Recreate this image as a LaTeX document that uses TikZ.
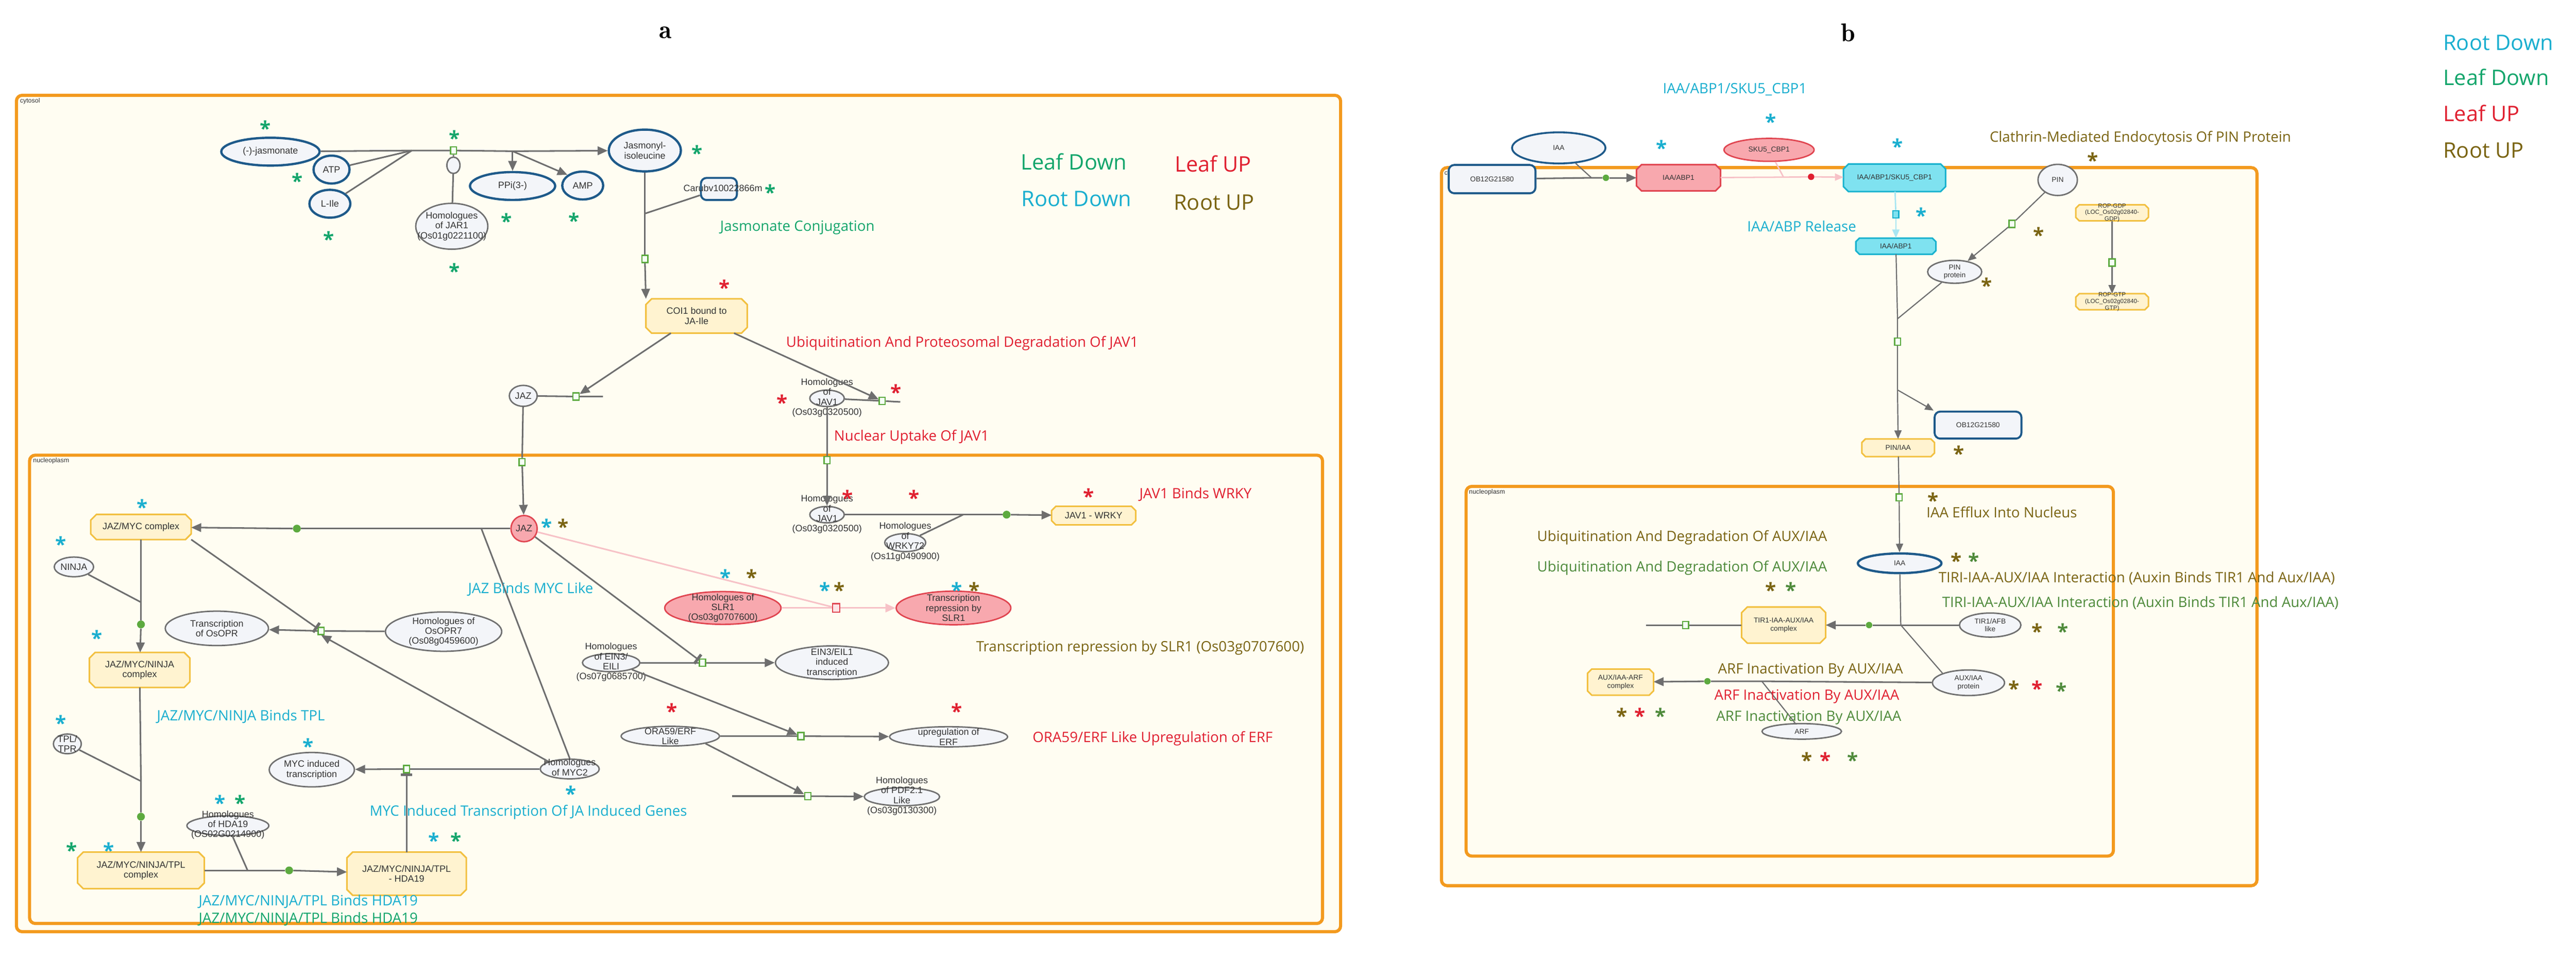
\documentclass[tikz,border=0pt]{standalone}
\usepackage{fontspec}
\setmainfont{Liberation Sans}
\newfontfamily\lab{Open Sans}
\usetikzlibrary{shapes.geometric,shapes.misc,arrows.meta}
\definecolor{cream}{HTML}{FFFDF2}
\definecolor{orng}{HTML}{F39A1E}
\definecolor{edg}{HTML}{6E6E6E}
\definecolor{gbord}{HTML}{707070}
\definecolor{gfill}{HTML}{F3F5F9}
\definecolor{bbord}{HTML}{1E5A8A}
\definecolor{yfill}{HTML}{FFF3D0}
\definecolor{ybord}{HTML}{F2C040}
\definecolor{pfill}{HTML}{F8A8AE}
\definecolor{pbord}{HTML}{E04550}
\definecolor{plink}{HTML}{F7C2C7}
\definecolor{cfill}{HTML}{7FE2F0}
\definecolor{cbord}{HTML}{19B2CE}
\definecolor{clink}{HTML}{A8E6F2}
\definecolor{sqg}{HTML}{5DAA3F}
\definecolor{cLD}{HTML}{13A56B}
\definecolor{cRD}{HTML}{19AECF}
\definecolor{cLU}{HTML}{E02030}
\definecolor{cRU}{HTML}{7A6412}
\definecolor{cGb}{HTML}{4E8A3A}
\definecolor{ntc}{HTML}{333333}
\tikzset{
 sz/.style 2 args={minimum width=#1*1.148pt,minimum height=#2*1.148pt},
 comp/.style={draw=orng,line width=2.2pt,rounded corners=4pt,fill=cream},
 nt/.style={font=\fontsize{6.5}{7}\selectfont,text=ntc,align=center,inner sep=0pt},
 nts/.style={font=\fontsize{5}{5.6}\selectfont,text=ntc,align=center,inner sep=0pt},
 gell/.style={ellipse,draw=gbord,fill=gfill,line width=1pt,inner sep=0pt},
 bell/.style={ellipse,draw=bbord,fill=gfill,line width=1.6pt,inner sep=0pt},
 oct/.style={rectangle,inner sep=0pt},
 pell/.style={gell,draw=pbord,fill=pfill},
 rbox/.style={rectangle,rounded corners=4pt,draw=bbord,fill=gfill,line width=1.4pt,inner sep=0pt},
 sq/.style={rectangle,draw=sqg,fill=green!4,line width=0.9pt,minimum width=4.2pt,minimum height=5pt,inner sep=0pt},
 gdot/.style={circle,fill=sqg,minimum size=5.5pt,inner sep=0pt},
 ed/.style={draw=edg,line width=1.1pt},
 arr/.style={ed,-{Triangle[length=7pt,width=6pt]}},
 inh/.style={ed,-{Bar[width=8pt,line width=2pt]}},
 lbl/.style={font=\lab\fontsize{10}{12}\selectfont,inner sep=0pt},
 leg/.style={font=\lab\fontsize{15}{17}\selectfont,inner sep=0pt},
 ast/.style={font=\lab\bfseries\fontsize{14}{14}\selectfont,inner sep=0pt},
 cmp/.style={font=\fontsize{4.5}{5}\selectfont,text=ntc,anchor=north west,inner sep=0pt},
 ttl/.style={font=\fontfamily{lmr}\bfseries\fontsize{18}{18}\selectfont},
}
\newcommand\astk[4]{\node[ast,text=#2] (#1) at (#3,#4) {*};}
\newcommand\octag[4]{\filldraw[draw=#2,fill=#3,line width=1.1pt] ([xshift=#4]#1.north west) -- ([xshift=-#4]#1.north east) -- ([yshift=-#4]#1.north east) -- ([yshift=#4]#1.south east) -- ([xshift=-#4]#1.south east) -- ([xshift=#4]#1.south west) -- ([yshift=#4]#1.south west) -- ([yshift=-#4]#1.north west) -- cycle;}
\begin{document}
\begin{tikzpicture}[x=0.04046cm,y=-0.04046cm]
\useasboundingbox (0,0) rectangle (1568,584);
\fill[white] (0,0) rectangle (1568,584);
% titles
\node[ttl] (ta) at (405,20) {a};
\node[ttl] (tb) at (1125,20) {b};
% ================= panel a compartments
\draw[comp] (10,58) rectangle (816,567);
\node[cmp] (cyta) at (12,59.5) {cytosol};
\draw[comp] (18,277) rectangle (805,562);
\node[cmp] (nuca) at (20,278.5) {nucleoplasm};
% cytosol nodes
\node[bell,sz={60}{17}] (jas) at (164.6,92.3) {}; \node[nt] (jast) at (jas) {(-)-jasmonate};
\node[bell,sz={22}{17}] (atp) at (201.8,103.2) {}; \node[nt] (atpt) at (atp) {ATP};
\node[bell,sz={25}{17}] (lile) at (200.8,124) {}; \node[nt] (lilet) at (lile) {L-Ile};
\node[sq] (s1) at (276,91.6) {};
\coordinate (c1) at (250.7,91.6);
\coordinate (c2) at (312,92);
\node[gell,sz={8}{10}] (cat) at (276,100.6) {};
\node[gell,sz={44}{28}] (jar) at (275,137.7) {}; \node[nt] (jart) at (jar) {Homologues\\of JAR1\\(Os01g0221100)};
\node[bell,sz={52}{17}] (ppi) at (312,113.2) {}; \node[nt] (ppit) at (ppi) {PPi(3-)};
\node[bell,sz={25}{17}] (amp) at (354.7,112.9) {}; \node[nt] (ampt) at (amp) {AMP};
\node[bell,sz={44}{25.5}] (jmi) at (392.5,91.6) {}; \node[nt] (jmit) at (jmi) {Jasmonyl-\\isoleucine};
\node[rbox,sz={22}{13.5}] (caru) at (437.6,115) {}; \node[nt] (carut) at (440,114.5) {Carubv10022866m};
\coordinate (c3) at (392.5,130);
\node[sq] (s2) at (392.5,157.6) {};
\node[oct,sz={61.5}{20.6}] (coi) at (424,192.3) {}; \octag{coi}{ybord}{yfill}{4pt} \node[nt] (coit) at (coi) {COI1 bound to\\JA-Ile};
\node[gell,sz={17}{12.8}] (jaz) at (318.5,240.9) {}; \node[nt] (jazt) at (jaz) {JAZ};
\node[sq] (s3) at (350.6,241.3) {};
\coordinate (c4) at (367,241.3);
\node[gell,sz={21}{10}] (jv1) at (503.4,242.4) {}; \node[nt] (jv1t) at (503.4,242) {Homologues\\of\\JAV1\\(Os03g0320500)};
\node[sq] (s4) at (537,244) {};
\coordinate (c5) at (548,244.6);
\node[sq] (s5) at (317.8,281.2) {};
\node[sq] (s6) at (503.4,280) {};
% cytosol edges
\draw[ed] (jas) -- (c1); \draw[ed] (atp) -- (c1); \draw[ed] (lile) -- (c1);
\draw[ed] (c1) -- (s1) -- (c2);
\draw[arr] (c2) -- (jmi);
\draw[arr] (c2) -- (ppi.north);
\draw[arr] (c2) -- (amp.north west);
\draw[ed] (s1) -- (cat) -- (jar);
\draw[ed] (jmi) -- (c3) -- (s2); \draw[ed] (caru) -- (c3);
\draw[arr] (s2) -- (coi.north west);
\draw[arr] (coi) -- (s3); \draw[ed] (jaz) -- (s3) -- (c4);
\draw[arr] (coi) -- (s4); \draw[ed] (jv1) -- (s4) -- (c5);
% nucleoplasm a nodes
\node[pell,circle,sz={16}{16}] (jazn) at (319,321.7) {}; \node[nt] (jaznt) at (jazn) {JAZ};
\draw[ed] (jaz) -- (s5); \draw[arr] (s5) -- (jazn);
\node[oct,sz={61}{15}] (jm) at (85.8,320.7) {}; \octag{jm}{ybord}{yfill}{4pt} \node[nt] (jmt) at (jm) {JAZ/MYC complex};
\node[gdot] (g1) at (180.7,321.7) {};
\coordinate (c6) at (293,321.7);
\node[gell,sz={24}{12}] (ninja) at (45,345) {}; \node[nt] (ninjat) at (ninja) {NINJA};
\node[gdot] (g2) at (85.8,380) {};
\coordinate (c7) at (85.8,366.5);
\node[oct,sz={61}{21}] (jmn) at (85,407.7) {}; \octag{jmn}{ybord}{yfill}{4pt} \node[nt] (jmnt) at (jmn) {JAZ/MYC/NINJA\\complex};
\node[gell,sz={63}{21}] (topr) at (132,382.4) {}; \node[nt] (toprt) at (topr) {Transcription\\of OsOPR};
\node[sq] (sopr) at (195.5,384) {};
\node[gell,sz={71}{24}] (opr7) at (270,384.4) {}; \node[nt] (opr7t) at (opr7) {Homologues of\\OsOPR7\\(Os08g0459600)};
\node[gell,sz={17}{12}] (tpl) at (41,452.7) {}; \node[nt] (tplt) at (tpl) {TPL/\\TPR};
\coordinate (c8) at (85.8,475.4);
\node[gdot] (g3) at (85.8,497) {};
\node[oct,sz={77}{22}] (jmnt2) at (85.8,529.7) {}; \octag{jmnt2}{ybord}{yfill}{4pt} \node[nt] (jmnt2t) at (jmnt2) {JAZ/MYC/NINJA/TPL\\complex};
\node[gell,sz={50}{12}] (hda) at (138.7,502.5) {}; \node[nt] (hdat) at (138.7,502) {Homologues\\of HDA19\\(OS02G0214900)};
\coordinate (c9) at (150.7,529.7);
\node[gdot] (g4) at (176,529.7) {};
\node[oct,sz={72.5}{26}] (hdc) at (247.5,531.7) {}; \octag{hdc}{ybord}{yfill}{4pt} \node[nt] (hdct) at (hdc) {JAZ/MYC/NINJA/TPL\\- HDA19};
\node[gell,sz={52}{21}] (myci) at (189.8,468.4) {}; \node[nt] (mycit) at (myci) {MYC induced\\transcription};
\node[sq] (smyc) at (247.5,468) {};
\node[gell,sz={36}{12}] (myc2) at (346.8,468) {}; \node[nt] (myc2t) at (346.8,467) {Homologues\\of MYC2};
\node[pell,sz={71}{20}] (slr) at (440,370) {}; \node[nt] (slrt) at (slr) {Homologues of\\SLR1\\(Os03g0707600)};
\node[sq,draw=pbord,fill=pfill!30,minimum width=5pt,minimum height=6pt] (sr) at (509,370) {};
\node[pell,sz={70}{20.5}] (trs) at (580.4,370) {}; \node[nt] (trst) at (trs) {Transcription\\repression by\\SLR1};
\node[gell,sz={35}{11}] (ein) at (372,403.3) {}; \node[nt] (eint) at (372,403) {Homologues\\of EIN3/\\EILI\\(Os07g0685700)};
\node[sq] (sein) at (427.6,403.3) {};
\node[gell,sz={69}{20.5}] (eint2) at (506.4,403.3) {}; \node[nt] (eint2t) at (eint2) {EIN3/EIL1\\induced\\transcription};
\node[gell,sz={60}{12}] (ora) at (408,448) {}; \node[nt] (orat) at (ora) {ORA59/ERF\\Like};
\node[sq] (serf) at (487.5,448) {};
\node[gell,sz={72}{12.3}] (uerf) at (577.4,448.4) {}; \node[nt] (uerft) at (uerf) {upregulation of\\ERF};
\coordinate (c10) at (445.6,484.5);
\node[sq] (spdf) at (491.7,484.5) {};
\node[gell,sz={46}{11}] (pdf) at (549,484.9) {}; \node[nt] (pdft) at (549,484.5) {Homologues\\of PDF2.1\\Like\\(Os03g0130300)};
\node[gell,sz={21}{10}] (jvn) at (503.4,313.2) {}; \node[nt] (jvnt) at (503.4,313) {Homologues\\of\\JAV1\\(Os03g0320500)};
\node[gell,sz={25}{11}] (wrk) at (551,330.2) {}; \node[nt] (wrkt) at (551,329.7) {Homologues\\of\\WRKY72\\(Os11g0490900)};
\coordinate (c11) at (586.3,313.2);
\node[gdot] (g5) at (612.7,313.2) {};
\node[oct,sz={51}{11}] (jw) at (665.7,313.8) {}; \octag{jw}{ybord}{yfill}{3pt} \node[nt] (jwt) at (jw) {JAV1 - WRKY};
% nucleoplasm a edges
\draw[ed] (jv1) -- (s6); \draw[arr] (s6) -- (jvn);
\draw[ed] (jazn) -- (c6) -- (g1); \draw[arr] (g1) -- (jm);
\draw[ed] (c6) -- (myc2.north);
\draw[ed] (jm) -- (c7) -- (g2); \draw[arr] (g2) -- (jmn);
\draw[ed] (ninja) -- (c7);
\draw[inh] (jm.south east) -- (sopr);
\draw[ed] (opr7) -- (sopr); \draw[arr] (sopr) -- (topr);
\draw[arr] (myc2.north west) -- (sopr.south);
\draw[ed] (jmn) -- (c8) -- (g3); \draw[arr] (g3) -- (jmnt2);
\draw[ed] (tpl) -- (c8);
\draw[ed] (jmnt2) -- (c9) -- (g4); \draw[arr] (g4) -- (hdc);
\draw[ed] (hda) -- (c9);
\draw[inh] (hdc) -- (smyc);
\draw[ed] (myc2) -- (smyc); \draw[arr] (smyc) -- (myci);
\draw[inh] (jazn) -- (sein);
\draw[ed] (ein) -- (sein); \draw[arr] (sein) -- (eint2);
\draw[arr] (ein.south east) -- (serf);
\draw[ed] (ora) -- (serf); \draw[arr] (serf) -- (uerf);
\draw[arr] (ora.south east) -- (spdf);
\draw[ed] (c10) -- (spdf); \draw[arr] (spdf) -- (pdf);
\draw[ed] (jvn) -- (c11) -- (g5); \draw[ed] (wrk) -- (c11);
\draw[arr] (g5) -- (jw);
\draw[draw=plink,line width=1.1pt] (jazn) -- (sr);
\draw[draw=plink,line width=1.1pt] (slr) -- (sr);
\draw[draw=plink,line width=1.1pt,-{Triangle[length=7pt,width=6pt]}] (sr) -- (trs);
% panel a texts
\node[leg,text=cLD] (l1) at (653.7,98.4) {Leaf Down};
\node[leg,text=cLU] (l2) at (738.5,99.8) {Leaf UP};
\node[leg,text=cRD] (l3) at (655.2,121) {Root Down};
\node[leg,text=cRU] (l4) at (739,123.2) {Root UP};
\node[lbl,text=cLD] (t1) at (485.4,138.5) {Jasmonate Conjugation};
\node[lbl,text=cLU] (t2) at (585.7,209) {Ubiquitination And Proteosomal Degradation Of JAV1};
\node[lbl,text=cLU,anchor=west] (t3) at (507.5,266) {Nuclear Uptake Of JAV1};
\node[lbl,text=cLU] (t4) at (727.7,301) {JAV1 Binds WRKY};
\node[lbl,text=cRD] (t5) at (323,358.5) {JAZ Binds MYC Like};
\node[lbl,text=cRU] (t6) at (694,394.3) {Transcription repression by SLR1 (Os03g0707600)};
\node[lbl,text=cLU] (t7) at (701.6,449.4) {ORA59/ERF Like Upregulation of ERF};
\node[lbl,text=cRD] (t8) at (146.6,436) {JAZ/MYC/NINJA Binds TPL};
\node[lbl,text=cRD] (t9) at (321.6,494.3) {MYC Induced Transcription Of JA Induced Genes};
\node[lbl,text=cRD] (t10) at (187.6,548.6) {JAZ/MYC/NINJA/TPL Binds HDA19};
\node[lbl,text=cLD] (t11) at (187.6,559.2) {JAZ/MYC/NINJA/TPL Binds HDA19};
% panel a asterisks
\astk{a1}{cLD}{161.4}{78}\astk{a2}{cLD}{276.5}{84}\astk{a3}{cLD}{181}{110}
\astk{a4}{cLD}{424.4}{93}\astk{a5}{cLD}{200.2}{145.5}\astk{a6}{cLD}{308.4}{134.5}
\astk{a7}{cLD}{349.3}{134}\astk{a8}{cLD}{276.5}{165}\astk{a9}{cLD}{468.8}{117}
\astk{a10}{cLU}{440.8}{175}\astk{a11}{cLU}{545.3}{238.5}\astk{a12}{cLU}{476}{245}
\astk{a13}{cRD}{86.7}{308.5}\astk{a14}{cRD}{36.9}{331}\astk{a15}{cRD}{59}{388}
\astk{a16}{cRD}{36.9}{440}\astk{a17}{cRD}{134}{488.5}\astk{a18}{cLD}{146}{488.5}
\astk{a19}{cLD}{43.5}{517.5}\astk{a20}{cRD}{66.2}{517.5}\astk{a21}{cRD}{264}{511.5}
\astk{a22}{cLD}{277.5}{511.5}\astk{a23}{cRD}{187.6}{454}\astk{a24}{cRD}{347.5}{483}
\astk{a25}{cRD}{332.6}{320.5}\astk{a26}{cRU}{342.7}{320.5}\astk{a27}{cRD}{441.5}{351}
\astk{a28}{cRU}{457.6}{351}\astk{a29}{cRD}{502}{359}\astk{a30}{cRU}{511}{359}
\astk{a31}{cRD}{582.5}{359}\astk{a32}{cRU}{593}{359}\astk{a33}{cLU}{409}{432.6}
\astk{a34}{cLU}{582.5}{432.6}\astk{a35}{cLU}{516}{303}\astk{a36}{cLU}{556.4}{303}
\astk{a37}{cLU}{662.7}{302}
% ================= panel b
\draw[comp] (877.4,102) rectangle (1373.8,539);
\node[cmp] (cytb) at (879,103.5) {cytosol};
\draw[comp] (892.4,296) rectangle (1286.4,521);
\node[cmp] (nucb) at (894,297.5) {nucleoplasm};
\node[gell,draw=bbord,line width=1.3pt,sz={57}{19}] (iaa) at (948.8,90) {}; \node[nts] (iaat) at (iaa) {IAA};
\node[rbox,sz={53}{17.3}] (ob1) at (908.2,109) {}; \node[nts] (ob1t) at (ob1) {OB12G21580};
\coordinate (b1) at (968.7,108.2);
\node[gdot,minimum size=4.5pt] (gb1) at (977.5,108.2) {};
\node[oct,sz={51}{15.6}] (ia1) at (1021.7,108.2) {}; \octag{ia1}{pbord}{pfill}{3.5pt} \node[nts] (ia1t) at (ia1) {IAA/ABP1};
\node[pell,sz={55}{14}] (sku) at (1076.8,91.2) {}; \node[nts] (skut) at (sku) {SKU5\_CBP1};
\coordinate (b2) at (1085.6,107.8);
\node[circle,fill=cLU,minimum size=4.5pt,inner sep=0pt] (rd) at (1102.4,107.6) {};
\node[oct,sz={62}{16.5}] (cpx) at (1153.2,108.2) {}; \octag{cpx}{cbord}{cfill}{3.5pt} \node[nts] (cpxt) at (cpx) {IAA/ABP1/SKU5\_CBP1};
\node[gell,sz={24}{19}] (pin) at (1252.5,109.5) {}; \node[nts] (pint) at (pin) {PIN};
\node[sq,draw=cbord,fill=cfill] (sc) at (1154,130.4) {};
\node[oct,sz={48.5}{9.5}] (ia2) at (1154,149.8) {}; \octag{ia2}{cbord}{cfill}{2.5pt} \node[nts] (ia2t) at (ia2) {IAA/ABP1};
\node[sq] (sp) at (1224.7,136.3) {};
\node[gell,sz={33}{14}] (pinp) at (1189.8,165.4) {}; \node[nts] (pinpt) at (pinp) {PIN\\protein};
\node[oct,sz={44}{9.5}] (rg1) at (1285.6,129.5) {}; \octag{rg1}{ybord}{yfill}{2.5pt} \node[nts,font=\fontsize{4.2}{4.6}\selectfont] (rg1t) at (rg1) {ROP-GDP\\(LOC\_Os02g02840-\\GDP)};
\node[sq] (sr2) at (1285.6,159.8) {};
\node[oct,sz={44}{9.5}] (rg2) at (1285.6,183.6) {}; \octag{rg2}{ybord}{yfill}{2.5pt} \node[nts,font=\fontsize{4.2}{4.6}\selectfont] (rg2t) at (rg2) {ROP-GTP\\(LOC\_Os02g02840-\\GTP)};
\coordinate (b3) at (1155,194);
\node[sq] (sb) at (1155,207.9) {};
\coordinate (b4) at (1155,237.3);
\node[rbox,sz={53}{16.5}] (ob2) at (1204,258.7) {}; \node[nts] (ob2t) at (ob2) {OB12G21580};
\node[oct,sz={44}{10.4}] (pia) at (1155.4,272.5) {}; \octag{pia}{ybord}{yfill}{2.5pt} \node[nts] (piat) at (pia) {PIN/IAA};
\node[sq] (sn) at (1156,302.7) {};
\node[bell,sz={51}{12}] (iaan) at (1156.3,342.8) {}; \node[nts] (iaant) at (iaan) {IAA};
\coordinate (b5) at (1157,380.4);
\node[gdot,minimum size=4.5pt] (gb2) at (1137.7,380.4) {};
\node[oct,sz={51}{21.7}] (tc) at (1085.7,380.4) {}; \octag{tc}{ybord}{yfill}{4pt} \node[nts] (tct) at (tc) {TIR1-IAA-AUX/IAA\\complex};
\node[sq] (st) at (1026,380.4) {};
\coordinate (b6) at (1001.8,380.4);
\node[gell,sz={37.5}{14.7}] (tir) at (1211.4,380.4) {}; \node[nts] (tirt) at (tir) {TIR1/AFB\\like};
\node[gell,sz={44}{15.6}] (aux) at (1198.2,415.5) {}; \node[nts] (auxt) at (aux) {AUX/IAA\\protein};
\node[oct,sz={40}{15.6}] (arfc) at (986.4,415.1) {}; \octag{arfc}{ybord}{yfill}{3pt} \node[nts] (arfct) at (arfc) {AUX/IAA-ARF\\complex};
\coordinate (b7) at (1072.4,414.6);
\node[gdot,minimum size=4.5pt] (gb3) at (1039.3,414.6) {};
\node[gell,sz={48.5}{9.5}] (arf) at (1096.7,445.1) {}; \node[nts] (arft) at (arf) {ARF};
% panel b edges
\draw[ed,line width=0.8pt] (iaa) -- (b1); \draw[ed] (ob1) -- (b1) -- (gb1);
\draw[arr] (gb1) -- (ia1);
\draw[draw=plink,line width=1pt] (ia1) -- (b2); \draw[draw=plink,line width=1pt] (sku) -- (b2);
\draw[draw=plink,line width=1pt] (b2) -- (rd);
\draw[draw=plink,line width=1pt,-{Triangle[length=6pt,width=5pt]}] (rd) -- (cpx);
\draw[draw=clink,line width=1pt] (cpx) -- (sc);
\draw[draw=clink,line width=1pt,-{Triangle[length=6pt,width=5pt]}] (sc) -- (ia2);
\draw[ed,line width=0.8pt] (pin) -- (sp); \draw[ed,line width=0.8pt,-{Triangle[length=6pt,width=5pt]}] (sp) -- (pinp);
\draw[ed,line width=0.8pt] (rg1) -- (sr2); \draw[ed,line width=0.8pt,-{Triangle[length=6pt,width=5pt]}] (sr2) -- (rg2);
\draw[ed,line width=0.8pt] (ia2) -- (b3) -- (sb) -- (b4); \draw[ed,line width=0.8pt] (pinp) -- (b3);
\draw[ed,line width=0.8pt,-{Triangle[length=6pt,width=5pt]}] (b4) -- (pia);
\draw[ed,line width=0.8pt,-{Triangle[length=6pt,width=5pt]}] (b4) -- (ob2.north west);
\draw[ed,line width=0.8pt] (pia) -- (sn); \draw[ed,line width=0.8pt,-{Triangle[length=6pt,width=5pt]}] (sn) -- (iaan);
\draw[ed,line width=0.8pt] (iaan) -- (b5); \draw[ed] (tir) -- (b5) -- (gb2);
\draw[arr] (gb2) -- (tc);
\draw[ed] (tc) -- (st) -- (b6);
\draw[ed,line width=0.8pt] (b5) -- (aux.north west);
\draw[ed] (aux) -- (b7) -- (gb3); \draw[ed,line width=0.8pt] (arf) -- (b7);
\draw[arr] (gb3) -- (arfc);
% panel b texts
\node[lbl,text=cRD] (u1) at (1056,54.4) {IAA/ABP1/SKU5\_CBP1};
\node[lbl,text=cRU] (u2) at (1302.8,84) {Clathrin-Mediated Endocytosis Of PIN Protein};
\node[lbl,text=cRD] (u3) at (1096.7,137.6) {IAA/ABP Release};
\node[lbl,text=cRU,anchor=west] (u4) at (1172.5,311.6) {IAA Efflux Into Nucleus};
\node[lbl,text=cRU] (u5) at (1023.9,327.2) {Ubiquitination And Degradation Of AUX/IAA};
\node[lbl,text=cGb] (u6) at (1023.9,345.8) {Ubiquitination And Degradation Of AUX/IAA};
\node[lbl,text=cRU] (u7) at (1300.6,351.8) {TIRI-IAA-AUX/IAA Interaction (Auxin Binds TIR1 And Aux/IAA)};
\node[lbl,text=cGb] (u8) at (1302.8,367) {TIRI-IAA-AUX/IAA Interaction (Auxin Binds TIR1 And Aux/IAA)};
\node[lbl,text=cRU] (u9) at (1102,407.8) {ARF Inactivation By AUX/IAA};
\node[lbl,text=cLU] (u10) at (1099.8,423.8) {ARF Inactivation By AUX/IAA};
\node[lbl,text=cGb] (u11) at (1101,436.8) {ARF Inactivation By AUX/IAA};
\node[leg,text=cRD,anchor=west] (lb1) at (1487,26) {Root Down};
\node[leg,text=cLD,anchor=west] (lb2) at (1487,47) {Leaf Down};
\node[leg,text=cLU,anchor=west] (lb3) at (1487,69) {Leaf UP};
\node[leg,text=cRU,anchor=west] (lb4) at (1487,91.5) {Root UP};
% panel b asterisks
\astk{b1a}{cRD}{1077.7}{74}\astk{b2a}{cRD}{1011.5}{90}\astk{b3a}{cRD}{1155}{89}
\astk{b4a}{cRU}{1274}{97.5}\astk{b5a}{cRD}{1169.5}{131}\astk{b6a}{cRU}{1241}{143}
\astk{b7a}{cRU}{1209.2}{173.5}\astk{b8a}{cRU}{1192.4}{276}\astk{b9a}{cRU}{1176.6}{304.5}
\astk{b10a}{cRU}{1190.7}{341}\astk{b11a}{cGb}{1201.3}{341}\astk{b12a}{cRU}{1077.7}{359}
\astk{b13a}{cGb}{1090}{359}\astk{b14a}{cRU}{1240}{384}\astk{b15a}{cGb}{1255.6}{384}
\astk{b16a}{cRU}{1226}{419}\astk{b17a}{cLU}{1240}{419}\astk{b18a}{cGb}{1254.7}{420}
\astk{b19a}{cRU}{987.2}{435.5}\astk{b20a}{cLU}{998.3}{435.5}\astk{b21a}{cGb}{1010.6}{435.5}
\astk{b22a}{cRU}{1099.8}{462.5}\astk{b23a}{cLU}{1111.2}{462.5}\astk{b24a}{cGb}{1127.6}{462.5}
\end{tikzpicture}
\end{document}
